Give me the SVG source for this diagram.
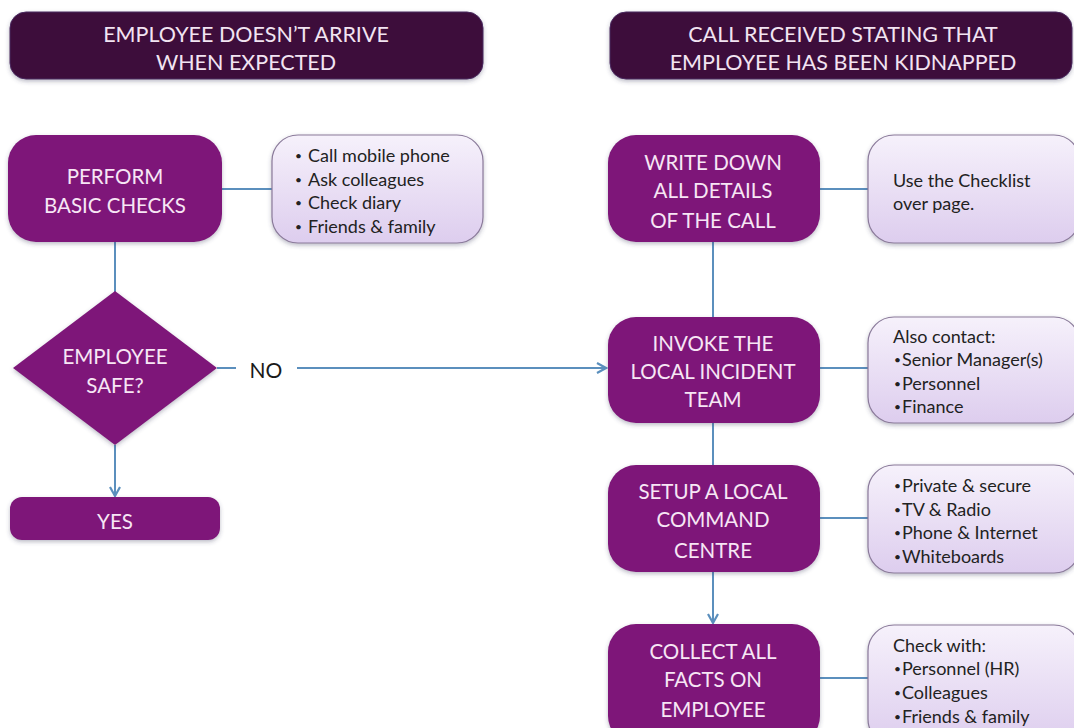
<svg xmlns="http://www.w3.org/2000/svg" width="1074" height="728" viewBox="0 0 1074 728">
<defs>
<linearGradient id="lav" x1="0" y1="0" x2="0" y2="1">
<stop offset="0" stop-color="#f6f1fb"/>
<stop offset="1" stop-color="#ddcdee"/>
</linearGradient>
<filter id="sh" x="-10%" y="-10%" width="120%" height="130%">
<feGaussianBlur in="SourceAlpha" stdDeviation="2"/>
<feOffset dy="2" result="b"/>
<feFlood flood-color="#404060" flood-opacity="0.35"/>
<feComposite in2="b" operator="in"/>
<feMerge><feMergeNode/><feMergeNode in="SourceGraphic"/></feMerge>
</filter>
<marker id="arr" viewBox="0 0 12 12" refX="10" refY="6" markerWidth="12" markerHeight="12" markerUnits="userSpaceOnUse" orient="auto">
<path d="M1,1 L10,6 L1,11" fill="none" stroke="#5b8fbd" stroke-width="2.2"/>
</marker>
<style>
.hdr{fill:#3c0a3b;stroke:#4a2a60;stroke-width:1;filter:url(#sh)}
.box{fill:#7e1879;filter:url(#sh)}
.side{fill:url(#lav);stroke:#8a7a9a;stroke-width:1.2;filter:url(#sh)}
.ht{font-family:Lato,"Liberation Sans",sans-serif;font-size:21.5px;fill:#f2e4f2;text-anchor:middle}
.bt{font-family:Lato,"Liberation Sans",sans-serif;font-size:20.5px;fill:#f7e6f5;text-anchor:middle}
.st{font-family:Lato,"Liberation Sans",sans-serif;font-size:18px;fill:#222222}
.bu{font-family:Lato,"Liberation Sans",sans-serif;font-size:12px;fill:#222222}
.lbl{font-family:Lato,"Liberation Sans",sans-serif;font-size:21px;fill:#1a1a1a;text-anchor:middle}
.con{fill:none;stroke:#5b8fbd;stroke-width:2}
</style>
</defs>
<rect width="1074" height="728" fill="#ffffff"/>

<g id="connectors">
<line class="con" x1="222" y1="189" x2="272" y2="189"/>
<line class="con" x1="115" y1="242" x2="115" y2="292"/>
<line class="con" x1="115" y1="445" x2="115" y2="496" marker-end="url(#arr)"/>
<line class="con" x1="217" y1="368" x2="236" y2="368"/>
<line class="con" x1="297" y1="368" x2="606" y2="368" marker-end="url(#arr)"/>
<line class="con" x1="820" y1="189" x2="868" y2="189"/>
<line class="con" x1="713" y1="242" x2="713" y2="317"/>
<line class="con" x1="820" y1="368" x2="868" y2="368"/>
<line class="con" x1="713" y1="423" x2="713" y2="465"/>
<line class="con" x1="820" y1="518" x2="868" y2="518"/>
<line class="con" x1="713" y1="572" x2="713" y2="623" marker-end="url(#arr)"/>
<line class="con" x1="820" y1="678" x2="868" y2="678"/>
<text class="lbl" x="266" y="378">NO</text>
</g>

<g id="hdr-left">
<rect class="hdr" x="10" y="12" width="473" height="67" rx="16"/>
<text class="ht" x="246" y="42">EMPLOYEE DOESN’T ARRIVE</text>
<text class="ht" x="246" y="70">WHEN EXPECTED</text>
</g>

<g id="hdr-right">
<rect class="hdr" x="610" y="12" width="462" height="67" rx="16"/>
<text class="ht" x="843" y="42">CALL RECEIVED STATING THAT</text>
<text class="ht" x="843" y="70">EMPLOYEE HAS BEEN KIDNAPPED</text>
</g>

<g id="perform">
<rect class="box" x="8" y="135" width="214" height="107" rx="28"/>
<text class="bt" x="115" y="184">PERFORM</text>
<text class="bt" x="115" y="213">BASIC CHECKS</text>
</g>

<g id="perform-notes">
<rect class="side" x="272" y="135" width="211" height="108" rx="26"/>
<text class="bu" x="295" y="160">•</text><text class="st" x="308" y="162">Call mobile phone</text>
<text class="bu" x="295" y="184">•</text><text class="st" x="308" y="186">Ask colleagues</text>
<text class="bu" x="295" y="207">•</text><text class="st" x="308" y="209">Check diary</text>
<text class="bu" x="295" y="231">•</text><text class="st" x="308" y="233">Friends &amp; family</text>
</g>

<g id="safe">
<polygon class="box" points="115,291 217,368 115,445 13,368"/>
<text class="bt" x="115" y="364">EMPLOYEE</text>
<text class="bt" x="115" y="393">SAFE?</text>
</g>

<g id="yes">
<rect class="box" x="10" y="497" width="210" height="43" rx="12"/>
<text class="bt" x="115" y="529">YES</text>
</g>

<g id="write">
<rect class="box" x="608" y="135" width="212" height="107" rx="28"/>
<text class="bt" x="713" y="170">WRITE DOWN</text>
<text class="bt" x="713" y="198">ALL DETAILS</text>
<text class="bt" x="713" y="228">OF THE CALL</text>
</g>

<g id="write-notes">
<rect class="side" x="868" y="135" width="212" height="108" rx="26"/>
<text class="st" x="893" y="187">Use the Checklist</text>
<text class="st" x="893" y="210">over page.</text>
</g>

<g id="invoke">
<rect class="box" x="608" y="317" width="212" height="106" rx="28"/>
<text class="bt" x="713" y="351">INVOKE THE</text>
<text class="bt" x="713" y="379">LOCAL INCIDENT</text>
<text class="bt" x="713" y="407">TEAM</text>
</g>

<g id="invoke-notes">
<rect class="side" x="868" y="317" width="212" height="106" rx="26"/>
<text class="st" x="893" y="343">Also contact:</text>
<text class="bu" x="894" y="364">•</text><text class="st" x="902" y="366">Senior Manager(s)</text>
<text class="bu" x="894" y="388">•</text><text class="st" x="902" y="390">Personnel</text>
<text class="bu" x="894" y="411">•</text><text class="st" x="902" y="413">Finance</text>
</g>

<g id="setup">
<rect class="box" x="608" y="465" width="212" height="107" rx="28"/>
<text class="bt" x="713" y="499">SETUP A LOCAL</text>
<text class="bt" x="713" y="527">COMMAND</text>
<text class="bt" x="713" y="558">CENTRE</text>
</g>

<g id="setup-notes">
<rect class="side" x="868" y="465" width="212" height="108" rx="26"/>
<text class="bu" x="894" y="490">•</text><text class="st" x="902" y="492">Private &amp; secure</text>
<text class="bu" x="894" y="514">•</text><text class="st" x="902" y="516">TV &amp; Radio</text>
<text class="bu" x="894" y="537">•</text><text class="st" x="902" y="539">Phone &amp; Internet</text>
<text class="bu" x="894" y="561">•</text><text class="st" x="902" y="563">Whiteboards</text>
</g>

<g id="collect">
<rect class="box" x="608" y="624" width="212" height="120" rx="28"/>
<text class="bt" x="713" y="659">COLLECT ALL</text>
<text class="bt" x="713" y="687">FACTS ON</text>
<text class="bt" x="713" y="717">EMPLOYEE</text>
</g>

<g id="collect-notes">
<rect class="side" x="868" y="625" width="212" height="120" rx="26"/>
<text class="st" x="893" y="652">Check with:</text>
<text class="bu" x="894" y="673">•</text><text class="st" x="902" y="675">Personnel (HR)</text>
<text class="bu" x="894" y="697">•</text><text class="st" x="902" y="699">Colleagues</text>
<text class="bu" x="894" y="721">•</text><text class="st" x="902" y="723">Friends &amp; family</text>
</g>
</svg>
